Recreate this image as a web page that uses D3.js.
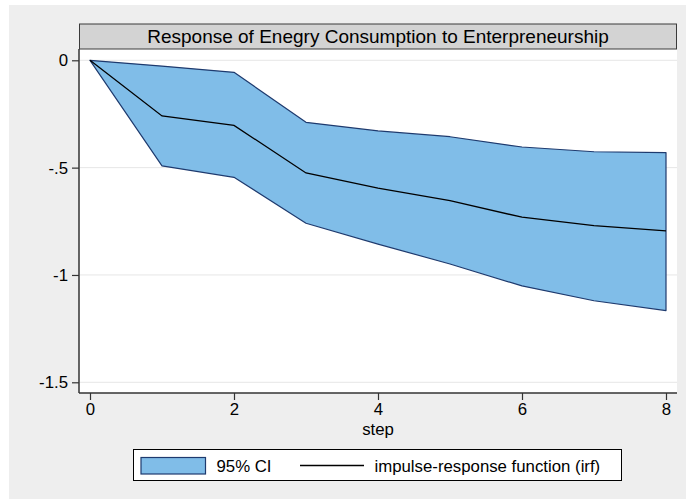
<!DOCTYPE html>
<meta charset="utf-8">
<style>
    body { margin: 0; background: #fff; }
    text { font-family: "Liberation Sans", Arial, sans-serif; fill: #000; }
</style>
<body>
<script src="https://cdn.jsdelivr.net/npm/d3@7"></script>
<script>
    // values
    var steps = [0, 1, 2, 3, 4, 5, 6, 7, 8];
    var irf = [0, -0.259, -0.303, -0.525, -0.595, -0.654, -0.731, -0.770, -0.795];
    var lower = [0, -0.492, -0.545, -0.759, -0.856, -0.949, -1.051, -1.120, -1.166];
    var upper = [0, -0.027, -0.056, -0.289, -0.329, -0.356, -0.404, -0.426, -0.430];
    var yTicks = [0, -0.5, -1, -1.5];
    var xTicks = [0, 2, 4, 6, 8];
    var title = "Response of Enegry Consumption to Enterpreneurship";
    var legendLabels = ["95% CI", "impulse-response function (irf)"];

    var width = 686, height = 499;
    var plot = { left: 79, right: 677, top: 49, bottom: 393 };

    var svg = d3.select("body").append("svg")
        .attr("width", width)
        .attr("height", height);

    // gray chart background
    svg.append("rect")
        .attr("x", 9).attr("y", 5)
        .attr("width", width - 9).attr("height", height - 5)
        .attr("fill", "#eeeeee");

    var x = d3.scaleLinear().domain([0, 8]).range([90, 666]);
    var y = d3.scaleLinear().domain([0, -1.5]).range([60.3, 382.3]);

    // plot region
    svg.append("rect")
        .attr("x", plot.left).attr("y", plot.top)
        .attr("width", plot.right - plot.left)
        .attr("height", plot.bottom - plot.top)
        .attr("fill", "#fff");

    // grid lines
    svg.append("g")
        .selectAll("line")
        .data(yTicks)
        .enter().append("line")
        .attr("x1", plot.left + 1).attr("x2", plot.right)
        .attr("y1", d => y(d)).attr("y2", d => y(d))
        .attr("stroke", "#e6e6e6")
        .attr("stroke-width", 1);

    // title bar
    svg.append("rect")
        .attr("x", plot.left + 0.5).attr("y", 24)
        .attr("width", plot.right - plot.left - 1).attr("height", 25)
        .attr("fill", "#d3d3d3")
        .attr("stroke", "#3a3a3a")
        .attr("stroke-width", 1);
    svg.append("text")
        .attr("x", (plot.left + plot.right) / 2).attr("y", 42.5)
        .attr("text-anchor", "middle")
        .style("font-size", "19px")
        .text(title);

    var pts = steps.map((s, i) => ({ s: s, irf: irf[i], lo: lower[i], hi: upper[i] }));

    // confidence band
    var area = d3.area()
        .x(d => x(d.s))
        .y0(d => y(d.lo))
        .y1(d => y(d.hi));
    svg.append("path")
        .datum(pts)
        .attr("d", area)
        .attr("fill", "#80bde8")
        .attr("stroke", "#1e3a6e")
        .attr("stroke-width", 1.2)
        .attr("stroke-linejoin", "round");

    // irf line
    var line = d3.line()
        .x(d => x(d.s))
        .y(d => y(d.irf));
    svg.append("path")
        .datum(pts)
        .attr("d", line)
        .attr("fill", "none")
        .attr("stroke", "#000")
        .attr("stroke-width", 1.3);

    // y axis
    var yAxis = svg.append("g")
        .attr("transform", "translate(" + plot.left + ",0)")
        .call(d3.axisLeft(y).tickValues(yTicks).tickSize(7).tickPadding(4)
            .tickFormat(d => String(d).replace("0.", ".")));
    yAxis.select(".domain").remove();
    yAxis.append("line")
        .attr("x1", 0).attr("x2", 0)
        .attr("y1", plot.top).attr("y2", plot.bottom)
        .attr("stroke", "#333").attr("stroke-width", 1.5);

    // x axis
    var xAxis = svg.append("g")
        .attr("transform", "translate(0," + plot.bottom + ")")
        .call(d3.axisBottom(x).tickValues(xTicks).tickSize(7).tickPadding(3));
    xAxis.select(".domain").remove();
    xAxis.append("line")
        .attr("x1", plot.left).attr("x2", plot.right)
        .attr("y1", 0).attr("y2", 0)
        .attr("stroke", "#333").attr("stroke-width", 1.5);

    svg.selectAll(".tick line").attr("stroke", "#333").attr("stroke-width", 1.2);
    svg.selectAll(".tick text")
        .style("font-size", "16.8px")
        .style("font-family", "'Liberation Sans', Arial, sans-serif")
        .attr("fill", "#000");

    svg.append("text")
        .attr("x", x(4)).attr("y", 435)
        .attr("text-anchor", "middle")
        .style("font-size", "16.8px")
        .text("step");

    // legend
    var legend = svg.append("g");
    legend.append("rect")
        .attr("x", 133.5).attr("y", 449.5)
        .attr("width", 488).attr("height", 31)
        .attr("fill", "#fff")
        .attr("stroke", "#000").attr("stroke-width", 1);
    legend.append("rect")
        .attr("x", 141).attr("y", 457.5)
        .attr("width", 64.5).attr("height", 16.5)
        .attr("fill", "#80bde8")
        .attr("stroke", "#1e3a6e").attr("stroke-width", 1.2);
    legend.append("text")
        .attr("x", 216.5).attr("y", 471.5)
        .style("font-size", "16.8px")
        .text(legendLabels[0]);
    legend.append("line")
        .attr("x1", 300).attr("x2", 364)
        .attr("y1", 465.5).attr("y2", 465.5)
        .attr("stroke", "#000").attr("stroke-width", 1.3);
    legend.append("text")
        .attr("x", 374.5).attr("y", 471.5)
        .style("font-size", "16.8px")
        .text(legendLabels[1]);
</script>
</body>
